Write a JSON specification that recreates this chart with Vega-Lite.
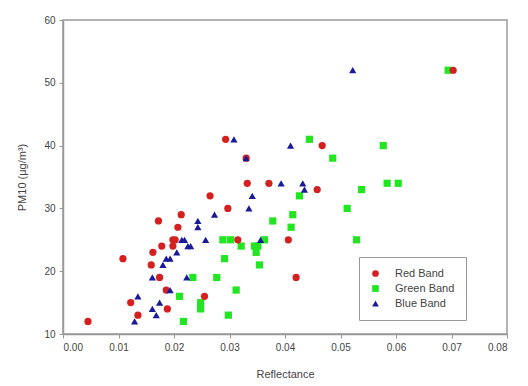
{
  "$schema": "https://vega.github.io/schema/vega-lite/v6.json",
  "width": 444,
  "height": 314,
  "autosize": {"type": "none"},
  "padding": {"left": 63, "top": 20, "right": 21, "bottom": 52},
  "background": "white",
  "config": {
    "font": "Liberation Sans",
    "view": {"stroke": "#999999", "strokeWidth": 1.5},
    "axis": {
      "grid": false,
      "domainColor": "#999999",
      "domainWidth": 1.5,
      "tickColor": "#999999",
      "tickSize": 4,
      "labelColor": "#444444",
      "labelFontSize": 10,
      "titleColor": "#444444",
      "titleFontSize": 11,
      "titleFontWeight": "normal"
    }
  },
  "data": {
    "values": [
      {"Band": "Green Band", "x": 0.0210, "y": 16},
      {"Band": "Green Band", "x": 0.0217, "y": 12},
      {"Band": "Green Band", "x": 0.0234, "y": 19},
      {"Band": "Green Band", "x": 0.0248, "y": 15},
      {"Band": "Green Band", "x": 0.0248, "y": 14},
      {"Band": "Green Band", "x": 0.0277, "y": 19},
      {"Band": "Green Band", "x": 0.0288, "y": 25},
      {"Band": "Green Band", "x": 0.0291, "y": 22},
      {"Band": "Green Band", "x": 0.0298, "y": 13},
      {"Band": "Green Band", "x": 0.0302, "y": 25},
      {"Band": "Green Band", "x": 0.0312, "y": 17},
      {"Band": "Green Band", "x": 0.0321, "y": 24},
      {"Band": "Green Band", "x": 0.0345, "y": 24},
      {"Band": "Green Band", "x": 0.0348, "y": 23},
      {"Band": "Green Band", "x": 0.0351, "y": 24},
      {"Band": "Green Band", "x": 0.0354, "y": 21},
      {"Band": "Green Band", "x": 0.0363, "y": 25},
      {"Band": "Green Band", "x": 0.0378, "y": 28},
      {"Band": "Green Band", "x": 0.0411, "y": 27},
      {"Band": "Green Band", "x": 0.0414, "y": 29},
      {"Band": "Green Band", "x": 0.0426, "y": 32},
      {"Band": "Green Band", "x": 0.0444, "y": 41},
      {"Band": "Green Band", "x": 0.0486, "y": 38},
      {"Band": "Green Band", "x": 0.0512, "y": 30},
      {"Band": "Green Band", "x": 0.0529, "y": 25},
      {"Band": "Green Band", "x": 0.0538, "y": 33},
      {"Band": "Green Band", "x": 0.0577, "y": 40},
      {"Band": "Green Band", "x": 0.0584, "y": 34},
      {"Band": "Green Band", "x": 0.0604, "y": 34},
      {"Band": "Green Band", "x": 0.0694, "y": 52},
      {"Band": "Red Band", "x": 0.0045, "y": 12},
      {"Band": "Red Band", "x": 0.0108, "y": 22},
      {"Band": "Red Band", "x": 0.0122, "y": 15},
      {"Band": "Red Band", "x": 0.0135, "y": 13},
      {"Band": "Red Band", "x": 0.0162, "y": 23},
      {"Band": "Red Band", "x": 0.0159, "y": 21},
      {"Band": "Red Band", "x": 0.0172, "y": 28},
      {"Band": "Red Band", "x": 0.0178, "y": 24},
      {"Band": "Red Band", "x": 0.0174, "y": 19},
      {"Band": "Red Band", "x": 0.0186, "y": 17},
      {"Band": "Red Band", "x": 0.0188, "y": 14},
      {"Band": "Red Band", "x": 0.0198, "y": 25},
      {"Band": "Red Band", "x": 0.0198, "y": 24},
      {"Band": "Red Band", "x": 0.0202, "y": 25},
      {"Band": "Red Band", "x": 0.0207, "y": 27},
      {"Band": "Red Band", "x": 0.0213, "y": 29},
      {"Band": "Red Band", "x": 0.0255, "y": 16},
      {"Band": "Red Band", "x": 0.0265, "y": 32},
      {"Band": "Red Band", "x": 0.0293, "y": 41},
      {"Band": "Red Band", "x": 0.0297, "y": 30},
      {"Band": "Red Band", "x": 0.0315, "y": 25},
      {"Band": "Red Band", "x": 0.0332, "y": 34},
      {"Band": "Red Band", "x": 0.0330, "y": 38},
      {"Band": "Red Band", "x": 0.0371, "y": 34},
      {"Band": "Red Band", "x": 0.0406, "y": 25},
      {"Band": "Red Band", "x": 0.0420, "y": 19},
      {"Band": "Red Band", "x": 0.0458, "y": 33},
      {"Band": "Red Band", "x": 0.0467, "y": 40},
      {"Band": "Red Band", "x": 0.0703, "y": 52},
      {"Band": "Blue Band", "x": 0.0129, "y": 12},
      {"Band": "Blue Band", "x": 0.0135, "y": 16},
      {"Band": "Blue Band", "x": 0.0161, "y": 14},
      {"Band": "Blue Band", "x": 0.0161, "y": 19},
      {"Band": "Blue Band", "x": 0.0168, "y": 13},
      {"Band": "Blue Band", "x": 0.0174, "y": 15},
      {"Band": "Blue Band", "x": 0.0180, "y": 21},
      {"Band": "Blue Band", "x": 0.0186, "y": 22},
      {"Band": "Blue Band", "x": 0.0193, "y": 22},
      {"Band": "Blue Band", "x": 0.0193, "y": 17},
      {"Band": "Blue Band", "x": 0.0205, "y": 23},
      {"Band": "Blue Band", "x": 0.0214, "y": 25},
      {"Band": "Blue Band", "x": 0.0219, "y": 25},
      {"Band": "Blue Band", "x": 0.0223, "y": 19},
      {"Band": "Blue Band", "x": 0.0225, "y": 24},
      {"Band": "Blue Band", "x": 0.0230, "y": 24},
      {"Band": "Blue Band", "x": 0.0243, "y": 28},
      {"Band": "Blue Band", "x": 0.0243, "y": 27},
      {"Band": "Blue Band", "x": 0.0257, "y": 25},
      {"Band": "Blue Band", "x": 0.0273, "y": 29},
      {"Band": "Blue Band", "x": 0.0308, "y": 41},
      {"Band": "Blue Band", "x": 0.0330, "y": 38},
      {"Band": "Blue Band", "x": 0.0335, "y": 30},
      {"Band": "Blue Band", "x": 0.0341, "y": 32},
      {"Band": "Blue Band", "x": 0.0356, "y": 25},
      {"Band": "Blue Band", "x": 0.0393, "y": 34},
      {"Band": "Blue Band", "x": 0.0410, "y": 40},
      {"Band": "Blue Band", "x": 0.0432, "y": 34},
      {"Band": "Blue Band", "x": 0.0435, "y": 33},
      {"Band": "Blue Band", "x": 0.0522, "y": 52}
    ]
  },
  "mark": {"type": "point", "filled": true, "opacity": 1, "size": 52},
  "encoding": {
    "x": {
      "field": "x",
      "type": "quantitative",
      "title": "Reflectance",
      "scale": {"domain": [0, 0.08], "nice": false, "zero": false},
      "axis": {"values": [0, 0.01, 0.02, 0.03, 0.04, 0.05, 0.06, 0.07, 0.08], "format": ".2f", "labelPadding": 4, "titlePadding": 16}
    },
    "y": {
      "field": "y",
      "type": "quantitative",
      "title": "PM10 (μg/m³)",
      "scale": {"domain": [10, 60], "nice": false, "zero": false},
      "axis": {"values": [10, 20, 30, 40, 50, 60], "labelPadding": 4, "titlePadding": 16}
    },
    "color": {
      "field": "Band",
      "type": "nominal",
      "scale": {"domain": ["Red Band", "Green Band", "Blue Band"], "range": ["#d42020", "#22e622", "#1a1a99"]},
      "legend": {
        "title": null,
        "orient": "none",
        "legendX": 296,
        "legendY": 237,
        "direction": "vertical",
        "strokeColor": "#999999",
        "padding": 11,
        "labelFontSize": 11,
        "labelColor": "#444444",
        "labelOffset": 14,
        "rowPadding": 3,
        "symbolSize": 45,
        "fillColor": "white"
      }
    },
    "shape": {
      "field": "Band",
      "type": "nominal",
      "scale": {"domain": ["Red Band", "Green Band", "Blue Band"], "range": ["circle", "square", "triangle-up"]}
    },
    "order": {"value": 0}
  }
}
